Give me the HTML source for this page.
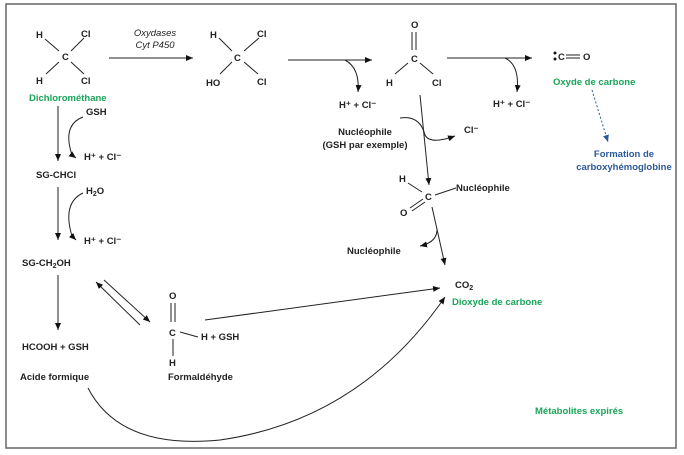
<!DOCTYPE html>
<html><head><meta charset="utf-8"><style>
html,body{margin:0;padding:0;background:#fff;}
svg{display:block;font-family:"Liberation Sans",sans-serif;font-size:9.5px;}
text{fill:#222;}
.g{fill:#1aa55a;}
.b{fill:#2a5a9a;}
</style></head><body>
<svg width="684" height="455" viewBox="0 0 684 455">
<defs>
<marker id="a" markerWidth="8" markerHeight="8" refX="7" refY="4" orient="auto" markerUnits="userSpaceOnUse"><path d="M0,1 L7,4 L0,7z" fill="#111"/></marker>
<marker id="ab" markerWidth="8" markerHeight="8" refX="7" refY="4" orient="auto" markerUnits="userSpaceOnUse"><path d="M0,1 L7,4 L0,7z" fill="#2a5a9a"/></marker>
</defs>
<rect x="6" y="4" width="670" height="444" fill="none" stroke="#666" stroke-width="1.5"/>
<g stroke="#222" stroke-width="1" fill="none">
<line x1="45" y1="39" x2="59" y2="51"/><line x1="84" y1="38" x2="71" y2="51"/>
<line x1="59" y1="62" x2="46" y2="74"/><line x1="71" y1="62" x2="84" y2="74"/>
<line x1="109" y1="58" x2="193" y2="58" marker-end="url(#a)"/>
<line x1="219" y1="38" x2="232" y2="51"/><line x1="259" y1="38" x2="244" y2="51"/>
<line x1="232" y1="62" x2="220" y2="74"/><line x1="244" y1="62" x2="258" y2="74"/>
<line x1="288" y1="60" x2="372" y2="60" marker-end="url(#a)"/>
<path d="M345,60 Q360,68 358,92" marker-end="url(#a)"/>
<line x1="412" y1="32" x2="412" y2="50"/><line x1="416" y1="32" x2="416" y2="50"/>
<line x1="408" y1="63" x2="395" y2="74"/><line x1="420" y1="63" x2="433" y2="74"/>
<line x1="447" y1="58" x2="532" y2="58" marker-end="url(#a)"/>
<path d="M505,58 Q520,65 517,92" marker-end="url(#a)"/>
<line x1="566" y1="55" x2="580" y2="55"/><line x1="566" y1="58" x2="580" y2="58"/>
<line x1="592" y1="90" x2="608" y2="142" stroke="#2a5a9a" stroke-dasharray="2,2" marker-end="url(#ab)"/>
<line x1="420" y1="95" x2="429" y2="185" marker-end="url(#a)"/>
<path d="M400,118 Q420,115 425,135 Q430,145 455,136" marker-end="url(#a)"/>
<line x1="408" y1="183" x2="422" y2="192"/>
<line x1="410" y1="208" x2="423" y2="199"/><line x1="412" y1="211" x2="425" y2="202"/>
<line x1="435" y1="195" x2="456" y2="188"/>
<line x1="432" y1="207" x2="445" y2="265" marker-end="url(#a)"/>
<path d="M437,228 Q438,242 420,246" marker-end="url(#a)"/>
<line x1="58" y1="106" x2="58" y2="161" marker-end="url(#a)"/>
<path d="M83,117 Q62,125 72,155 L76,158" marker-end="url(#a)"/>
<line x1="58" y1="187" x2="58" y2="240" marker-end="url(#a)"/>
<path d="M83,193 Q62,203 72,236 L76,240" marker-end="url(#a)"/>
<line x1="58" y1="275" x2="58" y2="330" marker-end="url(#a)"/>
<line x1="140" y1="325" x2="96" y2="282" marker-end="url(#a)"/>
<line x1="104" y1="280" x2="150" y2="322" marker-end="url(#a)"/>
<line x1="171" y1="303" x2="171" y2="322"/><line x1="175" y1="303" x2="175" y2="322"/>
<line x1="173" y1="339" x2="173" y2="356"/>
<line x1="180" y1="332" x2="198" y2="337"/>
<line x1="205" y1="320" x2="440" y2="288" marker-end="url(#a)"/>
<path d="M88,388 Q120,450 220,440 Q360,420 445,297" marker-end="url(#a)"/>
</g>
<circle cx="555" cy="53" r="1.5" fill="#111"/><circle cx="555" cy="59" r="1.5" fill="#111"/>
<g font-weight="bold">
<text x="36" y="38">H</text><text x="81" y="37">Cl</text><text x="62" y="60">C</text>
<text x="36" y="84">H</text><text x="81" y="84">Cl</text>
<text x="29" y="101" class="g">Dichlorométhane</text>
<text x="210" y="38">H</text><text x="257" y="37">Cl</text><text x="234" y="61">C</text>
<text x="206" y="86">HO</text><text x="257" y="85">Cl</text>
<text x="411" y="28">O</text><text x="411" y="62">C</text>
<text x="386" y="86">H</text><text x="432" y="86">Cl</text>
<text x="339" y="108">H⁺ + Cl⁻</text><text x="493" y="107">H⁺ + Cl⁻</text>
<text x="558" y="60">C</text><text x="583" y="60">O</text>
<text x="553" y="85" class="g">Oxyde de carbone</text>
<text x="624" y="157" class="b" text-anchor="middle">Formation de</text>
<text x="624" y="170" class="b" text-anchor="middle">carboxyhémoglobine</text>
<text x="365" y="135" text-anchor="middle">Nucléophile</text>
<text x="365" y="148" text-anchor="middle">(GSH par exemple)</text>
<text x="464" y="133">Cl⁻</text>
<text x="399" y="182">H</text><text x="425" y="200">C</text><text x="400" y="216">O</text>
<text x="456" y="191">Nucléophile</text>
<text x="347" y="254">Nucléophile</text>
<text x="455" y="288">CO<tspan font-size="7" dy="2">2</tspan></text>
<text x="452" y="305" class="g">Dioxyde de carbone</text>
<text x="86" y="115">GSH</text>
<text x="84" y="160">H⁺ + Cl⁻</text>
<text x="36" y="178">SG-CHCl</text>
<text x="86" y="194">H<tspan font-size="7" dy="2">2</tspan><tspan dy="-2">O</tspan></text>
<text x="84" y="244">H⁺ + Cl⁻</text>
<text x="22" y="266">SG-CH<tspan font-size="7" dy="2">2</tspan><tspan dy="-2">OH</tspan></text>
<text x="22" y="350">HCOOH + GSH</text>
<text x="20" y="380">Acide formique</text>
<text x="169" y="299">O</text><text x="169" y="336">C</text>
<text x="201" y="340">H + GSH</text>
<text x="169" y="366">H</text>
<text x="168" y="380">Formaldéhyde</text>
<text x="535" y="414" class="g">Métabolites expirés</text>
</g>
<text x="155" y="36" text-anchor="middle" font-style="italic">Oxydases</text>
<text x="155" y="48" text-anchor="middle" font-style="italic">Cyt P450</text>
</svg>
</body></html>
